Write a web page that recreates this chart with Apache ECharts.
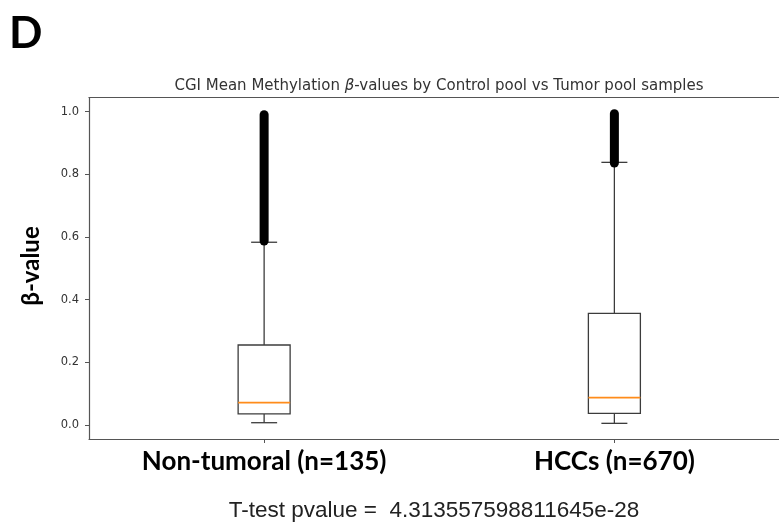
<!DOCTYPE html>
<html>
<head>
<meta charset="utf-8">
<script src="https://cdn.jsdelivr.net/npm/echarts@6/dist/echarts.min.js"></script>
<style>
  html, body { margin: 0; padding: 0; background: #fff; }
  #chart { width: 779px; height: 524px; }
</style>
</head>
<body>
<div id="chart"></div>
<script>
// values
var categories = ['Non-tumoral (n=135)', 'HCCs (n=670)'];
var positions = [1, 2];
var whiskerLow = [0.007, 0.005];
var q1 = [0.035, 0.037];
var median = [0.071, 0.087];
var q3 = [0.255, 0.356];
var whiskerHigh = [0.583, 0.838];
// outliers are a dense column of circles, kept as their range
var flierLow = [0.587, 0.836];
var flierHigh = [0.990, 0.993];
var yTicks = [0, 0.2, 0.4, 0.6, 0.8, 1.0];

var boxData = categories.map(function(c, i) {
	return [positions[i], whiskerLow[i], q1[i], median[i], q3[i], whiskerHigh[i], flierLow[i], flierHigh[i]];
});

var edge = '#3c3c3c',
	spine = '#555';

function renderBox(params, api) {
	var pos = api.value(0);
	var p = function(v) {
		return api.coord([pos, v]);
	};
	var cx = p(0)[0];
	var half = 26,
		cap = 13;
	var yLo = p(api.value(1))[1],
		yQ1 = p(api.value(2))[1],
		yMed = p(api.value(3))[1],
		yQ3 = p(api.value(4))[1],
		yHi = p(api.value(5))[1],
		yFl = p(api.value(6))[1],
		yFh = p(api.value(7))[1];
	var st = { stroke: edge, lineWidth: 1.3, fill: null };
	return {
		type: 'group',
		children: [
			{ type: 'line', shape: { x1: cx, y1: yLo, x2: cx, y2: yQ1 }, style: st },
			{ type: 'line', shape: { x1: cx - cap, y1: yLo, x2: cx + cap, y2: yLo }, style: st },
			{ type: 'line', shape: { x1: cx, y1: yQ3, x2: cx, y2: yHi }, style: st },
			{ type: 'line', shape: { x1: cx - cap, y1: yHi, x2: cx + cap, y2: yHi }, style: st },
			{ type: 'rect', shape: { x: cx - half, y: yQ3, width: half * 2, height: yQ1 - yQ3 }, style: st },
			{ type: 'line', shape: { x1: cx - half, y1: yMed, x2: cx + half, y2: yMed }, style: { stroke: '#ff8c1a', lineWidth: 1.6 } },
			{ type: 'line', shape: { x1: cx, y1: yFl, x2: cx, y2: yFh }, style: { stroke: '#000', lineWidth: 9, lineCap: 'round' } }
		]
	};
}

var chart = echarts.init(document.getElementById('chart'), null, { renderer: 'canvas' });

var option = {
	animation: false,
	backgroundColor: '#fff',
	grid: {
		left: 89,
		top: 97.5,
		right: 0,
		height: 341.5
	},
	xAxis: [{
		type: 'value',
		min: 0.5,
		max: 2.47,
		axisLine: { show: true, onZero: false, lineStyle: { color: spine, width: 1.2 } },
		axisTick: { show: true, length: 4, customValues: positions, lineStyle: { color: spine } },
		axisLabel: {
			customValues: positions,
			margin: 10,
			color: '#000',
			fontFamily: 'Lato',
			fontWeight: 'bold',
			fontSize: 26,
			formatter: function(v) {
				return categories[positions.indexOf(v)] || '';
			}
		},
		splitLine: { show: false }
	}, {
		type: 'value',
		position: 'top',
		min: 0.5,
		max: 2.47,
		axisLine: { show: true, onZero: false, lineStyle: { color: spine, width: 1.2 } },
		axisTick: { show: false },
		axisLabel: { show: false },
		splitLine: { show: false }
	}],
	yAxis: {
		type: 'value',
		min: -0.045,
		max: 1.045,
		axisLine: { show: true, onZero: false, lineStyle: { color: spine, width: 1.2 } },
		axisTick: { show: true, length: 4, customValues: yTicks, lineStyle: { color: spine } },
		axisLabel: {
			customValues: yTicks,
			margin: 10,
			color: '#333',
			fontFamily: 'DejaVu Sans',
			fontSize: 11.5,
			formatter: function(v) {
				return v.toFixed(1);
			}
		},
		splitLine: { show: false }
	},
	series: [{
		type: 'custom',
		renderItem: renderBox,
		data: boxData,
		encode: { x: 0, y: [1, 2, 3, 4, 5, 6, 7] }
	}],
	graphic: [{
		type: 'text',
		left: 9,
		top: 12,
		style: { text: 'D', font: 'bold 44px Lato', fill: '#000' }
	}, {
		type: 'text',
		x: 439,
		y: 86,
		style: {
			text: 'CGI Mean Methylation {b|β}-values by Control pool vs Tumor pool samples',
			font: '15px "DejaVu Sans"',
			fill: '#333',
			align: 'center',
			verticalAlign: 'middle',
			rich: { b: { fontStyle: 'italic', fontFamily: 'DejaVu Sans', fontSize: 15, fill: '#333' } }
		}
	}, {
		type: 'text',
		x: 31,
		y: 266,
		rotation: Math.PI / 2,
		style: {
			text: 'β-value',
			font: 'bold 24px Lato',
			fill: '#000',
			align: 'center',
			verticalAlign: 'middle'
		}
	}, {
		type: 'text',
		x: 434,
		y: 511,
		style: {
			text: 'T-test pvalue =  4.313557598811645e-28',
			font: '22.5px "Liberation Sans"',
			fill: '#222',
			align: 'center',
			verticalAlign: 'middle'
		}
	}]
};

chart.setOption(option);
</script>
</body>
</html>
